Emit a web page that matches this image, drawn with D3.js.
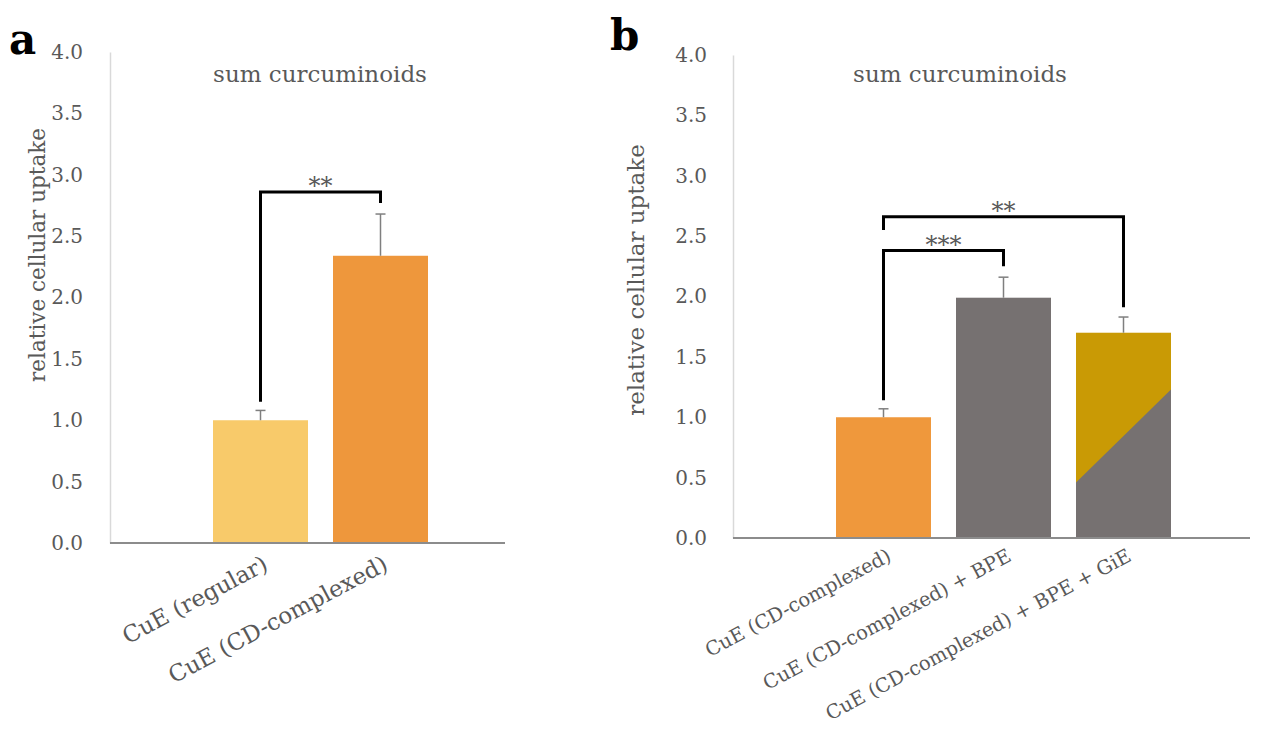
<!DOCTYPE html>
<html>
<head>
<meta charset="utf-8">
<script src="https://cdn.jsdelivr.net/npm/d3@7"></script>
<style>
  html, body { margin: 0; padding: 0; background: #fff; }
  svg { display: block; }
</style>
</head>
<body>
<svg id="chart" width="1264" height="731"></svg>
<script>
// ---------- data ----------
const titleText = "sum curcuminoids";
const yAxisLabel = "relative cellular uptake";
const yTicks = [0, 0.5, 1.0, 1.5, 2.0, 2.5, 3.0, 3.5, 4.0];

const catsA = ["CuE (regular)", "CuE (CD-complexed)"];
const valsA = [1.0, 2.34];
const errA = [0.08, 0.34];
const colorsA = ["#F8CA6A", "#EE973C"];
const bracketsA = [
  { from: 0, to: 1, top: 2.86, left: 1.15, right: 2.77, label: "**" }
];

const catsB = ["CuE (CD-complexed)", "CuE (CD-complexed) + BPE", "CuE (CD-complexed) + BPE + GiE"];
const valsB = [1.0, 1.99, 1.70];
const errB = [0.07, 0.17, 0.13];
const colorsB = ["#EF983C", "#767171", "#C99A05"];
// diagonal grey part of the third bar: value at left edge, value at right edge
const splitB = [null, null, [0.46, 1.23]];
const splitColor = "#767171";
const bracketsB = [
  { from: 0, to: 1, top: 2.38, left: 1.14, right: 2.25, label: "***" },
  { from: 0, to: 2, top: 2.66, left: 2.55, right: 1.91, label: "**" }
];

// ---------- drawing ----------
const svg = d3.select("#chart");
const FONT = "'DejaVu Serif', 'Liberation Serif', serif";
const TXT = "#595959";

function panel(cfg) {
  const g = svg.append("g");
  const y = d3.scaleLinear().domain([0, 4]).range([cfg.y0, cfg.y1]);
  const x = d3.scaleBand().domain(cfg.cats).range(cfg.xr)
    .paddingInner(25 / 120).paddingOuter(12.5 / 120);

  // y axis
  const yAxis = d3.axisLeft(y).tickValues(yTicks).tickFormat(d3.format(".1f")).tickSize(0).tickPadding(cfg.tickPad);
  const ya = g.append("g").attr("transform", `translate(${cfg.axisX},0)`).call(yAxis);
  ya.select(".domain").attr("stroke", "#D9D9D9").attr("stroke-width", 1.5);
  ya.selectAll("text").attr("font-family", FONT).attr("font-size", 20).attr("fill", TXT);

  // bars
  g.selectAll("rect.bar").data(cfg.vals).enter().append("rect")
    .attr("class", "bar")
    .attr("x", (d, i) => x(cfg.cats[i]))
    .attr("width", x.bandwidth())
    .attr("y", d => y(d))
    .attr("height", d => y(0) - y(d))
    .attr("fill", (d, i) => cfg.colors[i]);

  // diagonal split polygons
  if (cfg.split) {
    cfg.split.forEach((s, i) => {
      if (!s) return;
      const x0 = x(cfg.cats[i]), x1 = x0 + x.bandwidth();
      g.append("path")
        .attr("d", `M${x0},${y(0)}L${x0},${y(s[0])}L${x1},${y(s[1])}L${x1},${y(0)}Z`)
        .attr("fill", splitColor);
    });
  }

  // x axis
  const xa = g.append("g").attr("transform", `translate(0,${y(0)})`)
    .call(d3.axisBottom(x).tickSize(0).tickFormat(""));
  xa.select(".domain").remove();
  g.append("line").attr("x1", cfg.axisX).attr("x2", cfg.axisEnd)
    .attr("y1", y(0)).attr("y2", y(0)).attr("stroke", "#8C8C8C").attr("stroke-width", 2);

  // error bars
  cfg.vals.forEach((v, i) => {
    const cx = x(cfg.cats[i]) + x.bandwidth() / 2;
    g.append("line").attr("x1", cx).attr("x2", cx).attr("y1", y(v)).attr("y2", y(v + cfg.err[i]))
      .attr("stroke", "#7F7F7F").attr("stroke-width", 1.5);
    g.append("line").attr("x1", cx - 5).attr("x2", cx + 5).attr("y1", y(v + cfg.err[i])).attr("y2", y(v + cfg.err[i]))
      .attr("stroke", "#7F7F7F").attr("stroke-width", 1.5);
  });

  // brackets
  cfg.brackets.forEach(b => {
    const xl = x(cfg.cats[b.from]) + x.bandwidth() / 2;
    const xr = x(cfg.cats[b.to]) + x.bandwidth() / 2;
    g.append("path")
      .attr("d", `M${xl},${y(b.left)}L${xl},${y(b.top)}L${xr},${y(b.top)}L${xr},${y(b.right)}`)
      .attr("fill", "none").attr("stroke", "#000").attr("stroke-width", 3);
    g.append("text").attr("x", (xl + xr) / 2).attr("y", y(b.top) + 2)
      .attr("text-anchor", "middle").attr("font-family", FONT).attr("font-size", 24)
      .attr("fill", TXT).text(b.label);
  });

  // category labels
  cfg.cats.forEach((c, i) => {
    const cx = x(c) + x.bandwidth() / 2 + cfg.labelDx;
    g.append("text")
      .attr("transform", `translate(${cx},${y(0) + cfg.labelDy}) rotate(-28)`)
      .attr("text-anchor", "end").attr("font-family", FONT).attr("font-size", cfg.labelSize)
      .attr("fill", TXT).text(c);
  });

  // title
  g.append("text").attr("x", cfg.titleX).attr("y", cfg.titleY).attr("text-anchor", "middle")
    .attr("font-family", FONT).attr("font-size", 23).attr("fill", TXT).text(titleText);

  // y label
  g.append("text")
    .attr("transform", `translate(${cfg.ylabX},${cfg.ylabY}) rotate(-90)`)
    .attr("text-anchor", "middle").attr("font-family", FONT).attr("font-size", cfg.ylabSize)
    .attr("fill", TXT).text(yAxisLabel);

  // panel letter
  g.append("text").attr("x", cfg.letterX).attr("y", cfg.letterY)
    .attr("font-family", FONT).attr("font-weight", "bold").attr("font-size", 42)
    .attr("fill", "#000").text(cfg.letter);
}

panel({
  cats: catsA, vals: valsA, err: errA, colors: colorsA, brackets: bracketsA, split: null,
  y0: 543, y1: 52, xr: [200.5, 440.5], axisX: 110, axisEnd: 505, tickPad: 27,
  labelDx: 9, labelDy: 26, labelSize: 23,
  titleX: 320, titleY: 82, ylabX: 45, ylabY: 255, ylabSize: 21.5,
  letter: "a", letterX: 9, letterY: 54
});

panel({
  cats: catsB, vals: valsB, err: errB, colors: colorsB, brackets: bracketsB, split: splitB,
  y0: 538, y1: 55, xr: [823.5, 1183.5], axisX: 733, axisEnd: 1250, tickPad: 26,
  labelDx: 9, labelDy: 22, labelSize: 19.5,
  titleX: 960, titleY: 82, ylabX: 644, ylabY: 280, ylabSize: 23,
  letter: "b", letterX: 610, letterY: 50
});
</script>
</body>
</html>
